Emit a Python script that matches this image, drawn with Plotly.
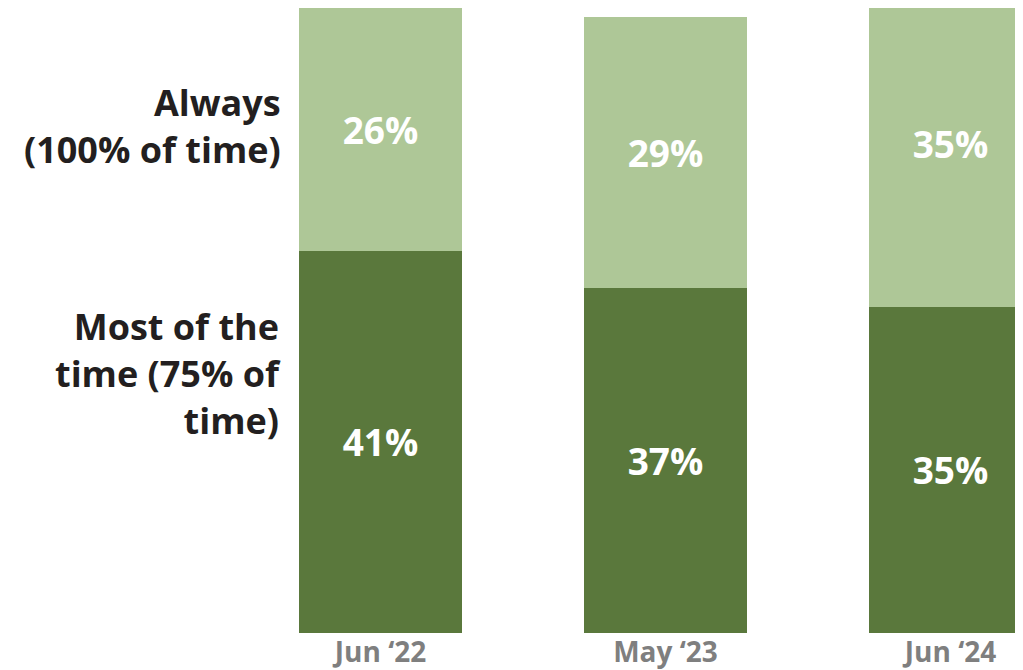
import plotly.graph_objects as go

categories = ["Jun \u201822", "May \u201823", "Jun \u201824"]
most_of_time = [41, 37, 35]
always = [26, 29, 35]
always_label = "Always<br>(100% of time)"
most_label = "Most of the<br>time (75% of<br>time)"

DARK = "#5a783c"
LIGHT = "#aec797"
FONT = "Open Sans"

W, H = 1015, 662  # page body has an 8px offset
PLOT_TOP, PLOT_H = 8, 625

fig = go.Figure()
for vals, col, name in [(most_of_time, DARK, "Most of the time (75% of time)"),
                        (always, LIGHT, "Always (100% of time)")]:
    fig.add_trace(go.Bar(
        x=categories, y=vals, name=name,
        marker=dict(color=col, line=dict(width=0)),
        text=[f"{v}%" for v in vals], textposition="inside",
        insidetextanchor="middle", textangle=0,
        textfont=dict(family=FONT, size=37, color="white", weight="bold"),
        width=0.572,
    ))

fig.update_layout(
    barmode="stack",
    width=W, height=H,
    margin=dict(l=0, r=0, t=0, b=37, pad=0),
    paper_bgcolor="white", plot_bgcolor="white",
    showlegend=False,
    uniformtext=dict(minsize=10, mode="show"),
    xaxis=dict(
        range=[(8 - 380.5) / 285, (1023 - 380.5) / 285],
        showgrid=False, zeroline=False, showline=False, ticks="",
        tickfont=dict(family=FONT, size=28, color="#7f7f7f", weight="bold"),
        fixedrange=True,
    ),
    yaxis=dict(range=[0, 67], visible=False, fixedrange=True),
)


def py(page_y):
    return 1 - (page_y - PLOT_TOP) / PLOT_H


label_x = (283 - 8) / W
for text, yc in [(always_label, 126), (most_label, 373)]:
    fig.add_annotation(
        xref="paper", yref="paper", x=label_x, y=py(yc),
        xanchor="right", yanchor="middle", align="right", showarrow=False,
        text=text, font=dict(family=FONT, size=36, color="#231f20", weight="bold"),
    )

fig.write_html("out.html")
